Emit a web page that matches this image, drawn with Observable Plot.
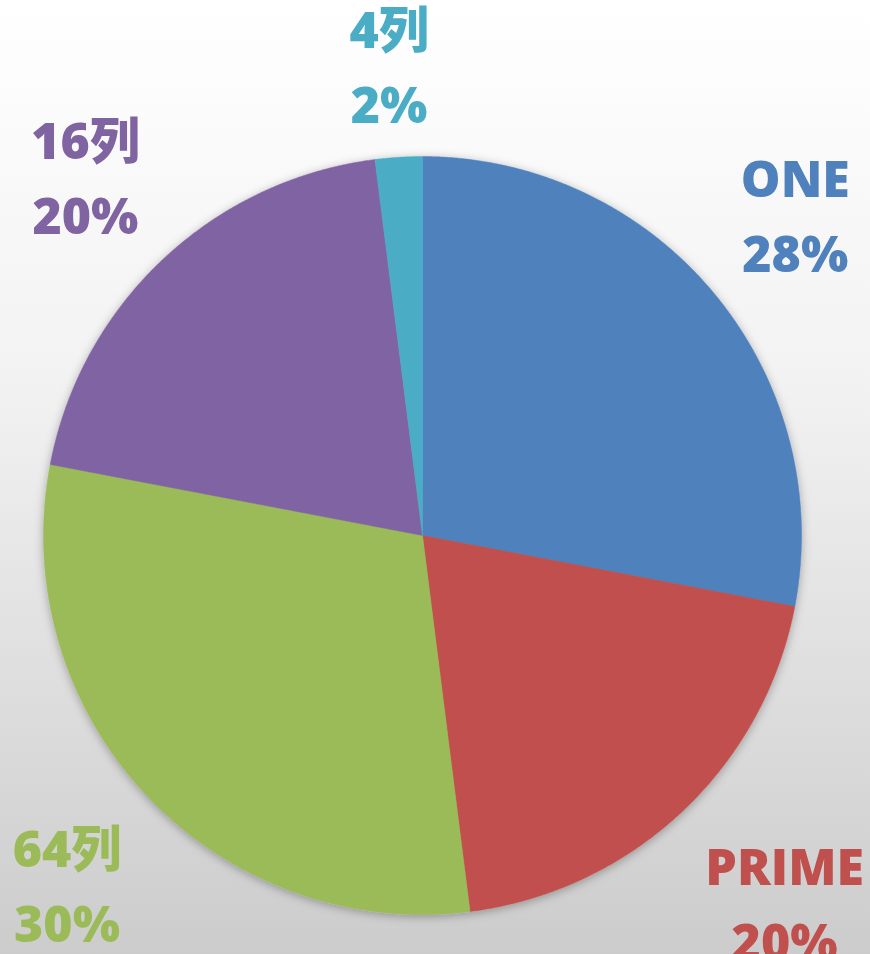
<!DOCTYPE html>
<html>
<head>
<meta charset="utf-8">
<script src="https://cdn.jsdelivr.net/npm/d3@7"></script>
<script src="https://cdn.jsdelivr.net/npm/@observablehq/plot@0.6"></script>
<style>
  html, body { margin: 0; padding: 0; background: #fff; }
  #chart { width: 870px; height: 954px; }
</style>
</head>
<body>
<div id="chart"></div>
<script>
const categories = ["ONE", "PRIME", "64列", "16列", "4列"];
const values = [28, 20, 30, 20, 2];
const colors = ["#4F81BD", "#C0504D", "#9BBB59", "#8064A2", "#4BACC6"];

const W = 870, H = 954, cx = 422, cy = 535, R = 379;
const fontSize = 50;
const fontFamily = "'Open Sans', 'Noto Sans CJK SC', sans-serif";
const fontWeight = 800;

const total = d3.sum(values);
const arcs = d3.pie().sort(null).value(d => d)(values);

// slice outlines in unit-radius coordinates (y up)
const slicePts = [];
arcs.forEach((a, i) => {
  const name = categories[i];
  slicePts.push({name, x: 0, y: 0});
  const step = Math.PI / 720;
  const n = Math.max(2, Math.ceil((a.endAngle - a.startAngle) / step));
  for (let k = 0; k <= n; k++) {
    const t = a.startAngle + (a.endAngle - a.startAngle) * k / n;
    slicePts.push({name, x: Math.sin(t), y: Math.cos(t)});
  }
  slicePts.push({name, x: 0, y: 0});
});

// labels placed just outside the pie, with the box corner nearest the pie at a fixed gap
const ctx = document.createElement("canvas").getContext("2d");
ctx.font = `${fontWeight} ${fontSize}px ${fontFamily}`;
const gap = 0.09; // in radius units
const halfH = 1.24 * fontSize;
const clamp = v => Math.max(-1, Math.min(1, v));
const labels = arcs.map((a, i) => {
  const m = (a.startAngle + a.endAngle) / 2;
  const s = Math.sin(m), c = Math.cos(m);
  const pct = Math.round(values[i] / total * 100) + "%";
  const hw = Math.max(ctx.measureText(categories[i]).width, ctx.measureText(pct).width) / 2;
  return {
    name: categories[i],
    x: (1 + gap) * s + clamp(3 * s) * hw / R,
    y: (1 + gap) * c + clamp(3 * c) * halfH / R,
    text: categories[i] + "\n" + pct
  };
});

const chart = Plot.plot({
  width: W,
  height: H,
  margin: 0,
  style: {
    background: "linear-gradient(to bottom, #ffffff 0%, #f2f2f2 40%, #cccccc 100%)",
    overflow: "visible"
  },
  x: {domain: [-cx / R, (W - cx) / R], range: [0, W], axis: null},
  y: {domain: [-(H - cy) / R, cy / R], range: [H, 0], axis: null},
  color: {domain: categories, range: colors},
  marks: [
    Plot.line(slicePts, {x: "x", y: "y", z: "name", fill: "name", stroke: "name", strokeWidth: 0.5, curve: "linear"}),
    Plot.text(labels, {
      x: "x", y: "y", text: "text", fill: "name",
      fontSize, fontWeight, lineHeight: 1.5, fontFamily
    })
  ]
});

document.getElementById("chart").appendChild(chart);

// soft shadow round the pie
const ns = "http://www.w3.org/2000/svg";
const defs = document.createElementNS(ns, "defs");
defs.innerHTML = '<filter id="pieShadow" x="-10%" y="-10%" width="120%" height="120%"><feDropShadow dx="0" dy="2" stdDeviation="5" flood-color="#000" flood-opacity="0.3"/></filter>';
chart.insertBefore(defs, chart.firstChild);
const lineG = chart.querySelector('g[aria-label="line"]');
if (lineG) lineG.setAttribute("filter", "url(#pieShadow)");
</script>
</body>
</html>
